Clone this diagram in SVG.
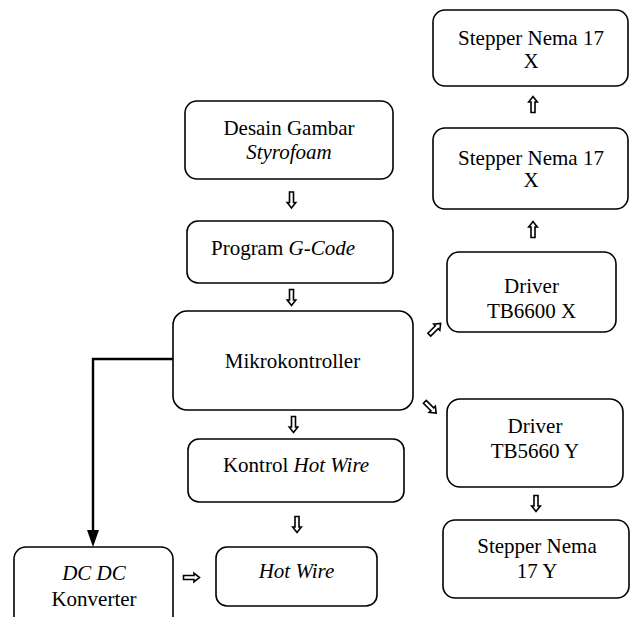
<svg xmlns="http://www.w3.org/2000/svg" width="630" height="617" viewBox="0 0 630 617">
<style>
.box{fill:#fff;stroke:#000;stroke-width:1.6}
.t{font-family:'Liberation Serif','Times New Roman',Tinos,'DejaVu Serif',serif;font-size:21px;fill:#000;text-anchor:middle}
.i{font-style:italic}
.ha{fill:#fff;stroke:#000;stroke-width:1.6;stroke-linejoin:miter}
</style>
<defs>
<path id="dn" class="ha" d="M-2,-8 L2,-8 L2,2.5 L4.3,2.5 L0,8 L-4.3,2.5 L-2,2.5 Z"/>
</defs>
<rect width="630" height="617" fill="#fff"/>
<g id="connectors">
<use href="#dn" transform="translate(291.5,200)"/>
<use href="#dn" transform="translate(291.5,297.5)"/>
<use href="#dn" transform="translate(293.5,424.5)"/>
<use href="#dn" transform="translate(297,524.5)"/>
<use href="#dn" transform="translate(536,503.5)"/>
<use href="#dn" transform="translate(533,104.5) rotate(180)"/>
<use href="#dn" transform="translate(533,229.5) rotate(180)"/>
<use href="#dn" transform="translate(191.5,577.5) rotate(-90)"/>
<use href="#dn" transform="translate(435,329) rotate(-135)"/>
<use href="#dn" transform="translate(430.5,407.5) rotate(-45)"/>
<path d="M173,359 H93 V530" fill="none" stroke="#000" stroke-width="2.4"/>
<path d="M87,530 L99,530 L93,547 Z" fill="#000"/>
</g>
<g id="stepper-x-1">
<rect class="box" x="433" y="10" width="195" height="76" rx="12"/>
<text class="t" x="531" y="45">Stepper Nema 17</text>
<text class="t" x="531" y="68">X</text>
</g>
<g id="stepper-x-2">
<rect class="box" x="433" y="128" width="195" height="81" rx="12"/>
<text class="t" x="531" y="165">Stepper Nema 17</text>
<text class="t" x="531" y="187">X</text>
</g>
<g id="driver-x">
<rect class="box" x="447" y="252" width="169" height="80" rx="12"/>
<text class="t" x="531.5" y="293">Driver</text>
<text class="t" x="531.5" y="318">TB6600 X</text>
</g>
<g id="desain">
<rect class="box" x="185" y="101" width="208" height="78" rx="12"/>
<text class="t" x="289" y="135">Desain Gambar</text>
<text class="t i" x="289" y="159">Styrofoam</text>
</g>
<g id="program">
<rect class="box" x="187" y="221" width="206" height="62" rx="11"/>
<text class="t" x="283" y="255">Program <tspan class="i">G-Code</tspan></text>
</g>
<g id="mikrokontroller">
<rect class="box" x="173" y="311" width="240" height="99" rx="14"/>
<text class="t" x="292.5" y="368">Mikrokontroller</text>
</g>
<g id="kontrol">
<rect class="box" x="188" y="439" width="216" height="63" rx="11"/>
<text class="t" x="296" y="472">Kontrol <tspan class="i">Hot Wire</tspan></text>
</g>
<g id="hotwire">
<rect class="box" x="216" y="547" width="161" height="59" rx="11"/>
<text class="t i" x="296.5" y="578">Hot Wire</text>
</g>
<g id="dcdc">
<rect class="box" x="14" y="547" width="159" height="90" rx="12"/>
<text class="t i" x="94" y="580">DC DC</text>
<text class="t" x="94" y="606">Konverter</text>
</g>
<g id="driver-y">
<rect class="box" x="447" y="399" width="176" height="88" rx="13"/>
<text class="t" x="535" y="433">Driver</text>
<text class="t" x="535" y="458">TB5660 Y</text>
</g>
<g id="stepper-y">
<rect class="box" x="443" y="520" width="186" height="78" rx="12"/>
<text class="t" x="537" y="553">Stepper Nema</text>
<text class="t" x="537" y="578">17 Y</text>
</g>
</svg>
